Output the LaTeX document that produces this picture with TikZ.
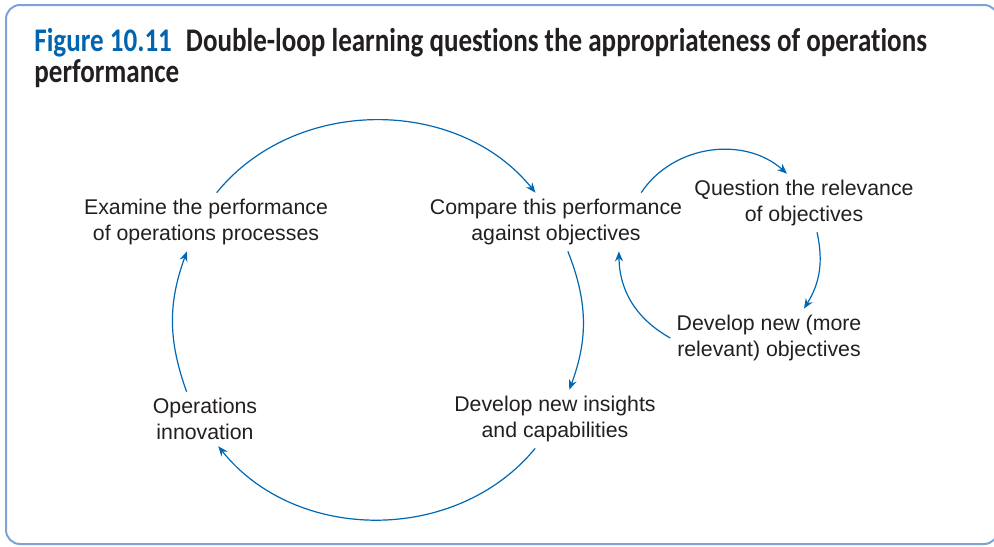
\documentclass[tikz,border=0pt]{standalone}
\usepackage{fontspec}
\setmainfont{Liberation Sans}
\newfontfamily\titlefont[FakeStretch=0.82, Ligatures=NoCommon]{Carlito}
\usetikzlibrary{arrows.meta, positioning}
\definecolor{cFrame}{RGB}{125,163,214}
\definecolor{cLoop}{RGB}{0,104,178}
\definecolor{cInk}{RGB}{35,31,32}
\definecolor{cFig}{RGB}{0,100,175}
\tikzset{
	txt/.style={align=center, text=cInk, font=\fontsize{10.65}{13}\selectfont, inner sep=3pt},
	cyc/.style={draw=cLoop, line width=0.6pt, -{Stealth[length=5pt,width=4pt]}},
}

\begin{document}
\begin{tikzpicture}[x=0.5pt,y=-0.5pt]
	\useasboundingbox (0,0) rectangle (994,546);
	% frame
	\draw[cFrame, line width=1pt, rounded corners=7pt] (6,5) rectangle (998,544);
	% caption
	\node[anchor=north west, inner sep=0pt, align=left, text=cInk, font=\titlefont\bfseries\fontsize{16.5}{13.5}\selectfont] (title) at (34,28)
		{\textcolor{cFig}{Figure 10.11}\hspace{7pt}Double-loop learning questions the appropriateness of operations\\performance};
	% outer loop
	\node[txt] (exam) at (206,222) {Examine the performance\\of operations processes};
	\node[txt] (comp) at (556,222) {Compare this performance\\against objectives};
	\node[txt] (devi) at (555,419) {Develop new insights\\and capabilities};
	\node[txt] (oper) at (205,419) {Operations\\innovation};
	% inner loop
	\node[txt] (ques) at (804,203) {Question the relevance\\of objectives};
	\node[txt] (devo) at (769,338) {Develop new (more\\relevant) objectives};
	% arcs of the outer loop
	\draw[cyc] (exam.70) to[bend left=51] (comp.125);
	\draw[cyc] (comp.-68) to[bend left=21] (devi.64);
	\draw[cyc] (devi.-124) to[bend left=51] (oper.-64);
	\draw[cyc] (oper.124) to[bend left=20] (exam.-123);
	% arcs of the inner loop
	\draw[cyc] (comp.19) to[bend left=49] (ques.120);
	\draw[cyc] (ques.-66) to[bend left=22] (devo.40);
	\draw[cyc] (devo.west) to[bend left=30] (comp.-25);
\end{tikzpicture}
\end{document}
